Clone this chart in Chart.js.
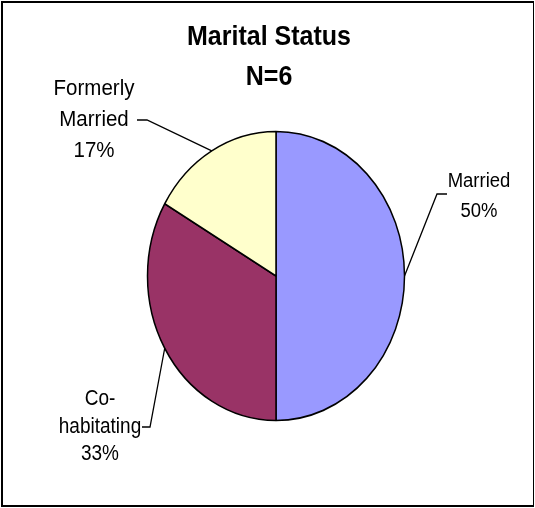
<!DOCTYPE html>
<html>
<head>
<meta charset="utf-8">
<script src="https://cdn.jsdelivr.net/npm/chart.js@4.4.0/dist/chart.umd.min.js"></script>
<style>
  html, body { margin: 0; padding: 0; background: #fff; }
  #wrap { position: relative; width: 535px; height: 508px; overflow: hidden; }
  #frame { position: absolute; left: 1px; top: 1px; width: 530px; height: 502px;
           border-style: solid; border-color: #000; border-width: 2px 1px 2px 2px; pointer-events: none; }
  canvas { position: absolute; left: 0; top: 0; }
</style>
</head>
<body>
<div id="wrap">
  <canvas id="pie" width="535" height="508"></canvas>
  <div id="frame"></div>
</div>
<script>
// --- data ---
const categories = ["Married", "Co-habitating", "Formerly Married"];
const labelLines = [["Married"], ["Co-", "habitating"], ["Formerly", "Married"]];
const counts = [3, 2, 1];
const sliceColors = ["#9999FF", "#993366", "#FFFFCC"];
const titleLines = ["Marital Status", "N=6"];

// --- layout (picture is stretched vertically) ---
const cx = 276, cy = 276, rad = 128.5, stretch = 1.1245;
const FONT = "'Liberation Sans', Arial, sans-serif";
// elbow/label positions for each slice's leader
const callouts = [
  { elbow: [437, 194], end: [447, 194], tx: 479, base: 187, step: 30, size: 18.5 },
  { elbow: [150, 427], end: [142, 427], tx: 100, base: 405, step: 27.5, size: 19 },
  { elbow: [147, 120], end: [137, 120], tx: 94, base: 95, step: 31, size: 20.5 }
];

const total = counts.reduce((a, b) => a + b, 0);

function stretchedText(ctx, t, x, y, k) {
  ctx.save();
  ctx.translate(x, y);
  ctx.scale(1, k);
  ctx.fillText(t, 0, 0);
  ctx.restore();
}

const ellipsePlugin = {
  id: "ellipse",
  beforeDatasetsDraw(chart) {
    const ctx = chart.ctx;
    ctx.save();
    ctx.translate(cx, cy);
    ctx.scale(1, stretch);
    ctx.translate(-cx, -cy);
  },
  afterDatasetsDraw(chart) {
    chart.ctx.restore();
  },
  afterDraw(chart) {
    const ctx = chart.ctx;
    const arcs = chart.getDatasetMeta(0).data;

    // leaders + labels
    ctx.save();
    ctx.strokeStyle = "#000";
    ctx.lineWidth = 1.3;
    ctx.fillStyle = "#000";
    ctx.textBaseline = "alphabetic";
    ctx.textAlign = "center";
    arcs.forEach((arc, i) => {
      const p = arc.getProps(["x", "y", "startAngle", "endAngle", "outerRadius"], true);
      const mid = (p.startAngle + p.endAngle) / 2;
      const ex = p.x + Math.cos(mid) * p.outerRadius;
      const ey = cy + (p.y + Math.sin(mid) * p.outerRadius - cy) * stretch;
      const c = callouts[i];
      ctx.beginPath();
      ctx.moveTo(ex, ey);
      ctx.lineTo(c.elbow[0], c.elbow[1]);
      ctx.lineTo(c.end[0], c.end[1]);
      ctx.stroke();
      const pct = Math.round(counts[i] / total * 100) + "%";
      const lines = labelLines[i].concat([pct]);
      ctx.font = c.size + "px " + FONT;
      lines.forEach((t, j) => stretchedText(ctx, t, c.tx, c.base + j * c.step, 1.12));
    });
    ctx.restore();

    // title
    ctx.save();
    ctx.fillStyle = "#000";
    ctx.font = "bold 25px " + FONT;
    ctx.textAlign = "center";
    [45, 85].forEach((b, j) => stretchedText(ctx, titleLines[j], 269, b, 1.12));
    ctx.restore();
  }
};

new Chart(document.getElementById("pie").getContext("2d"), {
  type: "pie",
  data: {
    labels: categories,
    datasets: [{
      data: counts,
      backgroundColor: sliceColors,
      borderColor: "#000",
      borderWidth: 1.5,
      hoverOffset: 0
    }]
  },
  options: {
    responsive: false,
    animation: false,
    radius: rad,
    layout: { padding: { left: 17, right: 0, top: 44, bottom: 0 } },
    plugins: {
      legend: { display: false },
      title: { display: false },
      tooltip: { enabled: false }
    },
    events: []
  },
  plugins: [ellipsePlugin]
});
</script>
</body>
</html>
